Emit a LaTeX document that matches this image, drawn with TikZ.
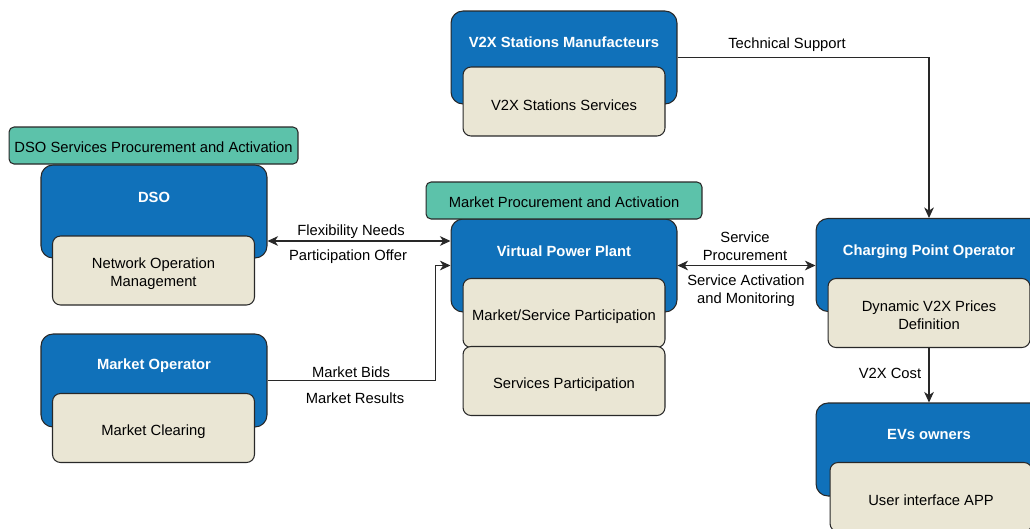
\documentclass[tikz,border=0pt]{standalone}
\usepackage{fontspec}
\setmainfont{Liberation Sans}
\usetikzlibrary{arrows.meta,calc}
\definecolor{boxblue}{RGB}{16,113,186}
\definecolor{boxbeige}{RGB}{234,230,212}
\definecolor{boxgreen}{RGB}{92,194,170}
\definecolor{edge}{RGB}{40,40,40}
\tikzset{
  txt/.style={font=\fontsize{8.4}{10.2}\selectfont, text=black, inner sep=0pt, align=center},
  bluebox/.style={draw=edge, line width=0.6pt, fill=boxblue, rounded corners=0.24cm,
    minimum width=4.52cm, minimum height=1.86cm, inner sep=0pt},
  beigebox/.style={draw=edge, line width=0.6pt, fill=boxbeige, rounded corners=0.16cm,
    minimum width=4.04cm, minimum height=1.38cm, inner sep=0pt, txt,
    execute at begin node={\rule{0pt}{10pt}}},
  beigeplain/.style={draw=edge, line width=0.6pt, fill=boxbeige, rounded corners=0.16cm,
    minimum width=4.04cm, minimum height=1.38cm, inner sep=0pt},
  greenbox/.style={draw=edge, line width=0.6pt, fill=boxgreen, rounded corners=0.1cm,
    minimum height=0.74cm, inner sep=0pt, txt,
    execute at begin node={\rule{0pt}{8.5pt}}},
  title/.style={font=\bfseries\fontsize{8.4}{10.2}\selectfont, text=white, inner sep=0pt},
  conn/.style={draw=edge, line width=0.6pt},
  tip/.style={-{Stealth[length=6pt,width=5.5pt,inset=1.8pt]}},
  bitip/.style={{Stealth[length=6pt,width=5.5pt,inset=1.8pt]}-{Stealth[length=6pt,width=5.5pt,inset=1.8pt]}}
}
\begin{document}
\begin{tikzpicture}[x=0.02cm,y=-0.02cm]
\useasboundingbox (0,0) rectangle (1030,528);
\clip (0,0) rectangle (1030,528);
\fill[white] (0,0) rectangle (1030,528);

% V2X Stations Manufacteurs
\node[bluebox] (v2x) at (564,57.5) {};
\node[title] (v2xt) at ([yshift=-0.63cm]v2x.north) {V2X Stations Manufacteurs};
\node[beigebox] (v2xs) at (564,101.5) {V2X Stations Services};

% DSO
\node[bluebox] (dso) at (154,211.5) {};
\node[title] (dsot) at ([yshift=-0.65cm]dso.north) {DSO};
\node[beigeplain] (dsos) at (153.5,270.5) {};
\node[txt] (dsost) at ([yshift=-0.06cm]dsos.center) {Network Operation\\Management};
\node[greenbox, minimum width=5.78cm] (dsog) at (153.5,145.5) {DSO Services Procurement and Activation};

% Market Operator
\node[bluebox] (mo) at (154,380.5) {};
\node[title] (mot) at ([yshift=-0.65cm]mo.north) {Market Operator};
\node[beigebox] (mos) at (153.5,428) {Market Clearing};

% Virtual Power Plant
\node[bluebox] (vpp) at (564,265.5) {};
\node[title] (vppt) at ([yshift=-0.65cm]vpp.north) {Virtual Power Plant};
\node[beigebox] (vpps) at (564,313) {Market/Service Participation};
\node[beigebox] (vpps2) at (564,381) {Services Participation};
\node[greenbox, minimum width=5.52cm] (vppg) at (564,200.5) {Market Procurement and Activation};

% Charging Point Operator
\node[bluebox] (cpo) at (929,265) {};
\node[title] (cpot) at ([yshift=-0.68cm]cpo.north) {Charging Point Operator};
\node[beigeplain] (cpos) at (929,313) {};
\node[txt] (cpost) at ([yshift=-0.05cm]cpos.center) {Dynamic V2X Prices\\Definition};

% EVs owners
\node[bluebox] (ev) at (929,449.5) {};
\node[title] (evt) at ([yshift=-0.65cm]ev.north) {EVs owners};
\node[beigebox] (evs) at (931,497) {User interface APP};

% connectors
\draw[conn,tip] (v2x.east) -| (cpo.north);
\draw[conn,bitip] ([yshift=-0.59cm]dso.east) -- ([yshift=-0.59cm]dso.east -| vpp.west);
\draw[conn,tip] (mo.east) -| ([xshift=-0.3cm]vpp.west) -- (vpp.west);
\draw[conn,bitip] (vpp.east) -- (vpp.east -| cpo.west);
\draw[conn,tip] (cpos.south) -- (cpos.south |- ev.north);

% labels
\node[txt] (l1) at (787,45) {Technical Support};
\node[txt] (l2) at (351,232) {Flexibility Needs};
\node[txt] (l3) at (348,257) {Participation Offer};
\node[txt] (l4) at (351,372) {Market Bids};
\node[txt] (l5) at (355,398) {Market Results};
\node[txt] (l6) at (745,246) {Service\\Procurement};
\node[txt] (l7) at (746,290.5) {Service Activation\\and Monitoring};
\node[txt] (l8) at (890,373) {V2X Cost};
\end{tikzpicture}
\end{document}
